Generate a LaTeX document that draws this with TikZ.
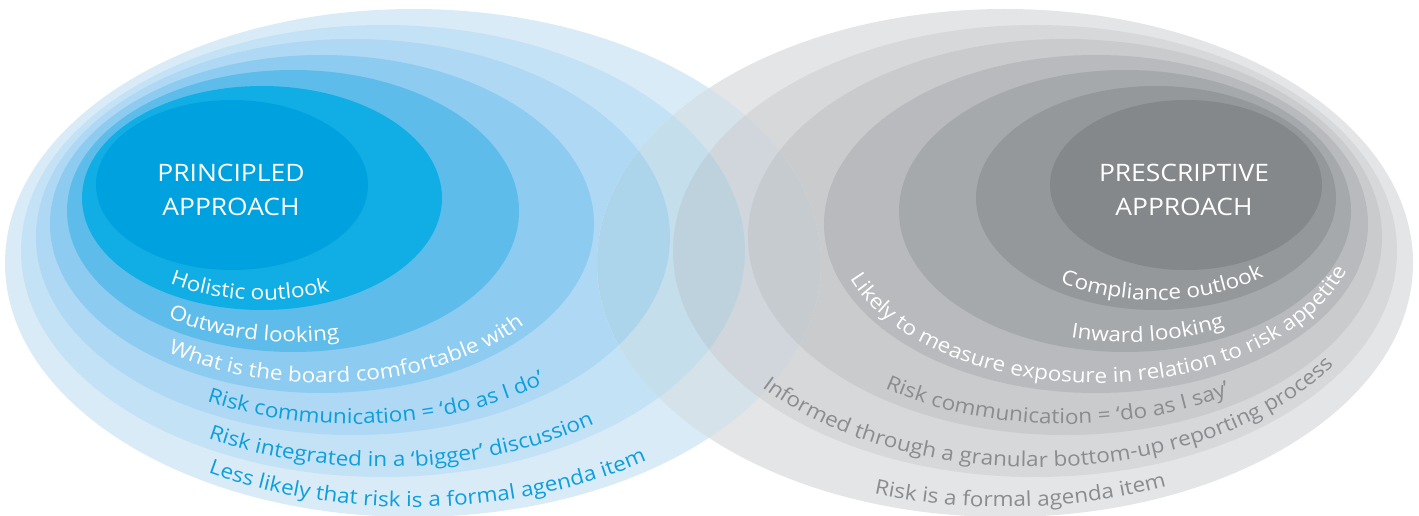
\documentclass[tikz,border=0pt]{standalone}
\usepackage{fontspec}
\setmainfont{Open Sans}[FakeStretch=1.1]
\usetikzlibrary{decorations.text}

\definecolor{blueG}{HTML}{DAEBF8}
\definecolor{blueF}{HTML}{C4E2F6}
\definecolor{blueE}{HTML}{AED8F4}
\definecolor{blueD}{HTML}{8DCBF0}
\definecolor{blueC}{HTML}{5EBCEA}
\definecolor{blueB}{HTML}{10AEE4}
\definecolor{blueA}{HTML}{00A1DF}
\definecolor{bluetext}{HTML}{0C9FDC}
\definecolor{greyG}{HTML}{E4E5E6}
\definecolor{greyF}{HTML}{D7D8DA}
\definecolor{greyE}{HTML}{C9CBCD}
\definecolor{greyD}{HTML}{B8BABD}
\definecolor{greyC}{HTML}{A6A9AC}
\definecolor{greyB}{HTML}{95989B}
\definecolor{greyA}{HTML}{85888B}
\definecolor{greytext}{HTML}{8A8C8F}
% where the two sets meet
\definecolor{mixGG}{HTML}{D6E2EA}
\definecolor{mixGF}{HTML}{D0D6DB}
\definecolor{mixGE}{HTML}{C5CBCF}
\definecolor{mixFG}{HTML}{C4DEEC}
\definecolor{mixFF}{HTML}{BED2DE}
\definecolor{mixEG}{HTML}{ACD5EC}

\tikzset{
  ringtext/.style 2 args={decorate, decoration={text along path, text align=left,
      text={|\fontsize{20.5}{24}\selectfont\color{#1}|#2}}},
  titletext/.style={text=white, font=\fontsize{24}{30}\selectfont, inner sep=0pt},
}

\begin{document}
\begin{tikzpicture}[x=1pt,y=1pt]
    \useasboundingbox (0,0) rectangle (1419,515);
    % principled side
    \fill[blueG] (413,252) ellipse[x radius=408, y radius=254];
    \fill[blueF] (383,264) ellipse[x radius=362, y radius=226];
    \fill[blueE] (353,278) ellipse[x radius=317, y radius=198];
    \fill[blueD] (322,291) ellipse[x radius=272, y radius=169];
    \fill[blueC] (293,304) ellipse[x radius=226, y radius=141];
    \fill[blueB] (262,317) ellipse[x radius=180, y radius=112];
    \fill[blueA] (232,330) ellipse[x radius=136, y radius=85];
    % prescriptive side
    \fill[greyG] (1005,252) ellipse[x radius=408, y radius=254];
    \fill[greyF] (1035,264) ellipse[x radius=362, y radius=226];
    \fill[greyE] (1065,278) ellipse[x radius=317, y radius=198];
    \fill[greyD] (1096,291) ellipse[x radius=272, y radius=169];
    \fill[greyC] (1125,304) ellipse[x radius=226, y radius=141];
    \fill[greyB] (1156,317) ellipse[x radius=180, y radius=112];
    \fill[greyA] (1186,330) ellipse[x radius=136, y radius=85];
    % overlap of the two
    \begin{scope}
    \clip (413,252) ellipse[x radius=408, y radius=254];
    \fill[mixGG] (1005,252) ellipse[x radius=408, y radius=254];
    \fill[mixGF] (1035,264) ellipse[x radius=362, y radius=226];
    \fill[mixGE] (1065,278) ellipse[x radius=317, y radius=198];
    \end{scope}
    \begin{scope}
    \clip (383,264) ellipse[x radius=362, y radius=226];
    \fill[mixFG] (1005,252) ellipse[x radius=408, y radius=254];
    \fill[mixFF] (1035,264) ellipse[x radius=362, y radius=226];
    \end{scope}
    \begin{scope}
    \clip (353,278) ellipse[x radius=317, y radius=198];
    \fill[mixEG] (1005,252) ellipse[x radius=408, y radius=254];
    \end{scope}

    \node[titletext, anchor=base] (princ) at (231,333) {PRINCIPLED};
    \node[titletext, anchor=base] (princapp) at (231,299) {APPROACH};
    \node[titletext, anchor=base] (presc) at (1184,333) {PRESCRIPTIVE};
    \node[titletext, anchor=base] (prescapp) at (1184,299) {APPROACH};

    \path[ringtext={white}{Holistic outlook}]
        ([shift={(237.2:170 and 102)}]262,317) arc[start angle=237.2, end angle=320, x radius=170, y radius=102];
    \path[ringtext={white}{Outward looking}]
        ([shift={(234.6:216 and 131)}]293,304) arc[start angle=234.6, end angle=310, x radius=216, y radius=131];
    \path[ringtext={white}{What is the board comfortable with}]
        ([shift={(234.0:262 and 159)}]322,291) arc[start angle=234.0, end angle=345, x radius=262, y radius=159];
    \path[ringtext={bluetext}{Risk communication = ‘do as I do’}]
        ([shift={(241.6:307 and 187)}]353,278) arc[start angle=241.6, end angle=335, x radius=307, y radius=187];
    \path[ringtext={bluetext}{Risk integrated in a ‘bigger’ discussion}]
        ([shift={(240.2:352 and 216)}]383,264) arc[start angle=240.2, end angle=335, x radius=352, y radius=216];
    \path[ringtext={bluetext}{Less likely that risk is a formal agenda item}]
        ([shift={(239.0:398 and 244)}]413,252) arc[start angle=239.0, end angle=330, x radius=398, y radius=244];

    \path[ringtext={white}{Compliance outlook}]
        ([shift={(235.6:170 and 102)}]1156,317) arc[start angle=235.6, end angle=335, x radius=170, y radius=102];
    \path[ringtext={white}{Inward looking}]
        ([shift={(255.5:216 and 131)}]1125,304) arc[start angle=255.5, end angle=325, x radius=216, y radius=131];
    \path[ringtext={white}{Likely to measure exposure in relation to risk appetite}]
        ([shift={(200.1:262 and 159)}]1096,291) arc[start angle=200.1, end angle=359, x radius=262, y radius=159];
    \path[ringtext={greytext}{Risk communication = ‘do as I say’}]
        ([shift={(234.1:307 and 187)}]1065,278) arc[start angle=234.1, end angle=315, x radius=307, y radius=187];
    \path[ringtext={greytext}{Informed through a granular bottom-up reporting process}]
        ([shift={(219.1:352 and 216)}]1035,264) arc[start angle=219.1, end angle=350, x radius=352, y radius=216];
    \path[ringtext={greytext}{Risk is a formal agenda item}]
        ([shift={(250.8:398 and 244)}]1005,252) arc[start angle=250.8, end angle=320, x radius=398, y radius=244];
\end{tikzpicture}
\end{document}
